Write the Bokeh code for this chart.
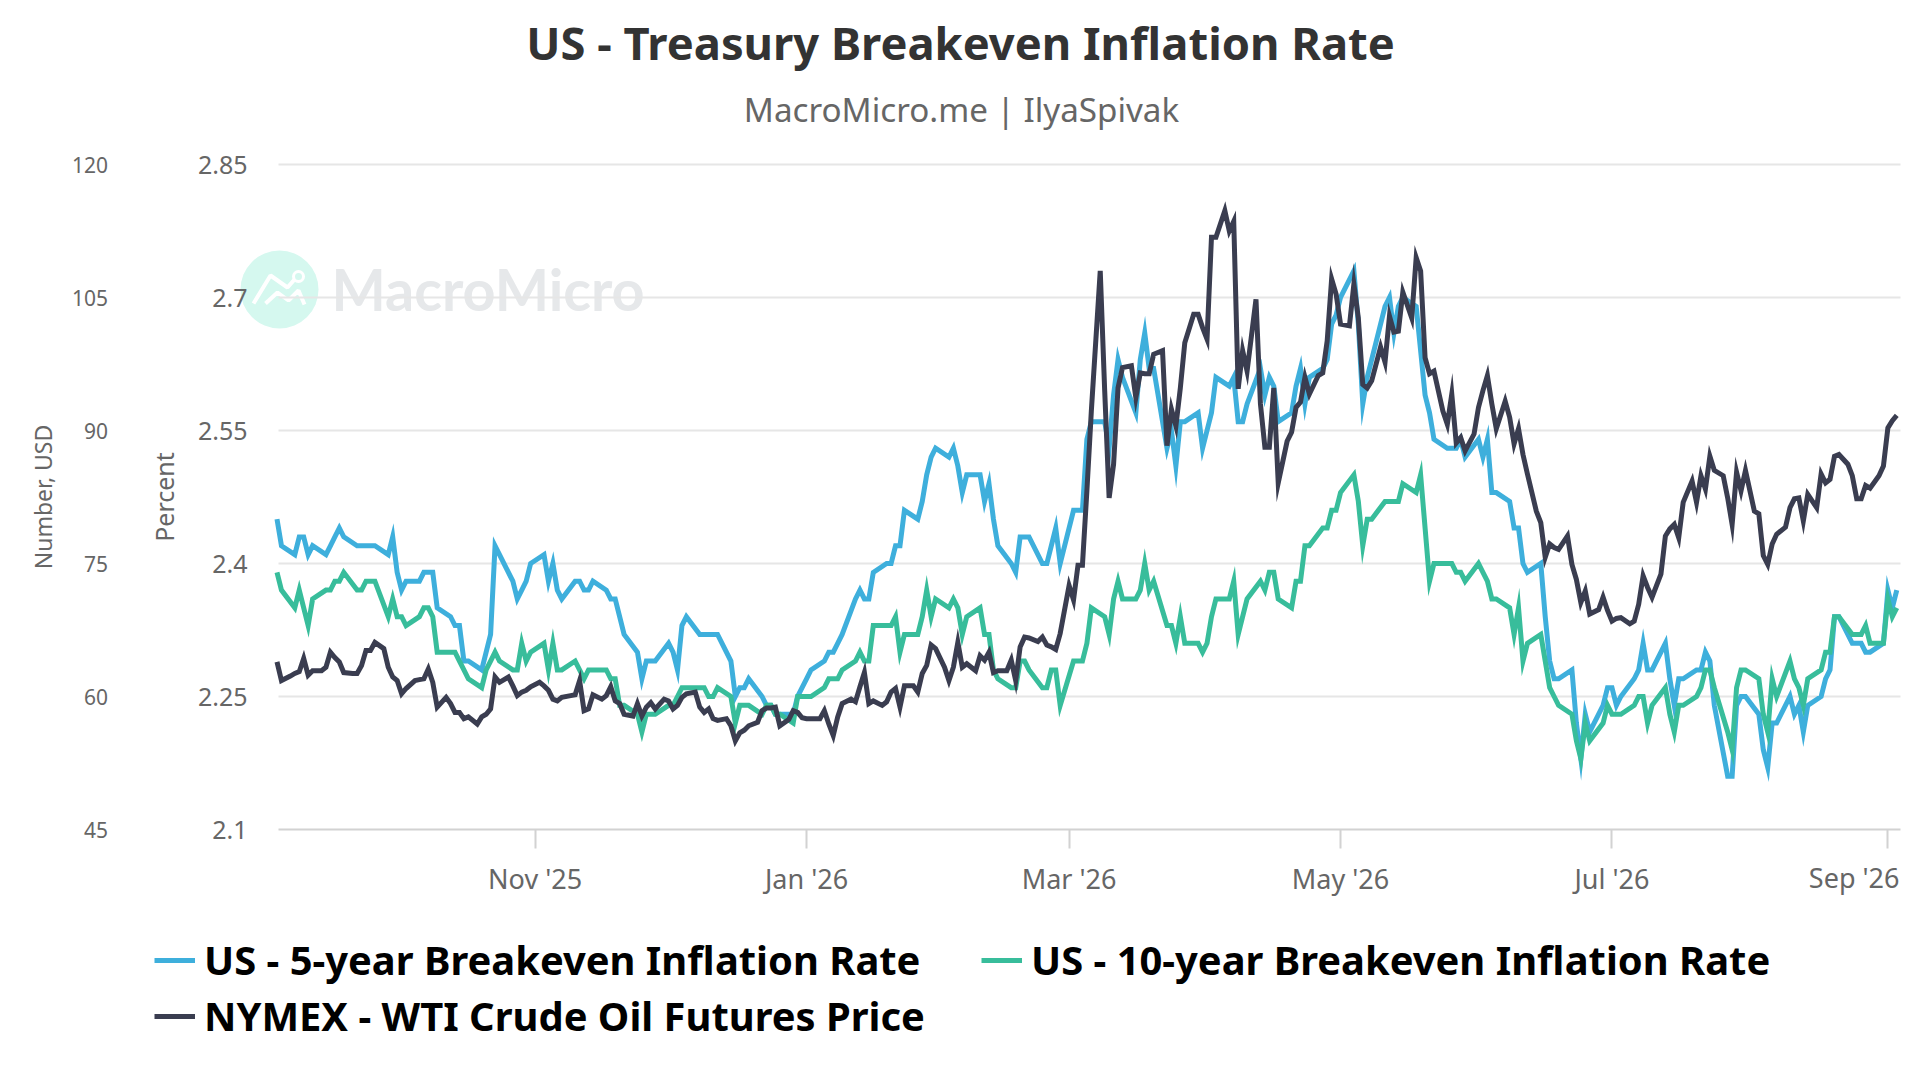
import pandas as pd
from bokeh.plotting import figure
from bokeh.models import (Range1d, LinearAxis, FixedTicker, Label, Legend, LegendItem,
                          BoxAnnotation, PolyAnnotation)
from bokeh.embed import file_html
from bokeh.resources import INLINE

TITLE = "US - Treasury Breakeven Inflation Rate"
SUBTITLE = "MacroMicro.me | IlyaSpivak"
FIRST_DAY = "2025-09-04"
LAST_DAY = "2026-09-03"
X_TICKS = ["2025-11-01", "2026-01-01", "2026-03-01", "2026-05-01", "2026-07-01", "2026-09-01"]
X_LABELS = ["Nov '25", "Jan '26", "Mar '26", "May '26", "Jul '26", "Sep '26"]
PCT_TICKS = [2.1, 2.25, 2.4, 2.55, 2.7, 2.85]
USD_TICKS = [45, 60, 75, 90, 105, 120]

five_year = [
    2.45, 2.42,
    2.41, 2.43, 2.43, 2.41, 2.42,
    2.41, 2.42, 2.43, 2.44, 2.43,
    2.42, 2.42, 2.42, 2.42, 2.42,
    2.41, 2.43, 2.39, 2.37, 2.38,
    2.38, 2.39, 2.39, 2.39, 2.35,
    2.34, 2.33, 2.33, 2.29, 2.29,
    2.28, 2.30, 2.32, 2.42, 2.41,
    2.38, 2.36, 2.37, 2.38, 2.40,
    2.41, 2.38, 2.40, 2.37, 2.36,
    2.38, 2.38, 2.37, 2.37, 2.38,
    2.37, 2.36, 2.36, 2.34, 2.32,
    2.30, 2.27, 2.29, 2.29, 2.29,
    2.31, 2.30, 2.28, 2.33, 2.34,
    2.32, 2.32, 2.32, 2.32, 2.32,
    2.29, 2.25, 2.26, 2.26, 2.27,
    2.25, 2.24, 2.24, 2.23, 2.23,
    2.23, 2.25, 2.26, 2.27, 2.28,
    2.29, 2.30, 2.30, 2.31, 2.32,
    2.36, 2.37, 2.36, 2.36, 2.39,
    2.40, 2.40, 2.42, 2.42, 2.46,
    2.45, 2.47, 2.50, 2.52, 2.53,
    2.52, 2.53, 2.51, 2.48, 2.50,
    2.50, 2.47, 2.49, 2.45, 2.42,
    2.40, 2.39, 2.43, 2.43, 2.43,
    2.40, 2.40, 2.42, 2.44, 2.40,
    2.46, 2.46, 2.46, 2.54, 2.56,
    2.56, 2.53, 2.59, 2.63, 2.61,
    2.57, 2.63, 2.66, 2.62, 2.62,
    2.53, 2.55, 2.51, 2.56, 2.56,
    2.57, 2.53, 2.55, 2.57, 2.61,
    2.60, 2.61, 2.56, 2.56, 2.58,
    2.62, 2.59, 2.61, 2.60, 2.56,
    2.57, 2.60, 2.62, 2.58, 2.61,
    2.62, 2.63, 2.67, 2.68, 2.70,
    2.73, 2.67, 2.58, 2.61, 2.63,
    2.69, 2.70, 2.66, 2.69, 2.70,
    2.69, 2.64, 2.59, 2.57, 2.54,
    2.53, 2.53, 2.53, 2.54, 2.52,
    2.54, 2.52, 2.54, 2.48, 2.48,
    2.47, 2.44, 2.44, 2.40, 2.39,
    2.40, 2.34, 2.29, 2.27, 2.27,
    2.28, 2.22, 2.18, 2.23, 2.21,
    2.24, 2.26, 2.26, 2.24, 2.25,
    2.27, 2.28, 2.31, 2.28, 2.28,
    2.31, 2.27, 2.24, 2.27, 2.27,
    2.28, 2.28, 2.30, 2.29, 2.24,
    2.16, 2.16, 2.24, 2.25, 2.25,
    2.23, 2.19, 2.17, 2.22, 2.22,
    2.25, 2.23, 2.24, 2.21, 2.24,
    2.25, 2.27, 2.28, 2.34, 2.34,
    2.31, 2.31, 2.31, 2.30, 2.30,
    2.31, 2.37, 2.35, 2.37,
]

ten_year = [
    2.39, 2.37,
    2.35, 2.37, 2.35, 2.33, 2.36,
    2.37, 2.37, 2.38, 2.38, 2.39,
    2.37, 2.37, 2.38, 2.38, 2.38,
    2.34, 2.36, 2.34, 2.34, 2.33,
    2.34, 2.35, 2.35, 2.34, 2.30,
    2.30, 2.30, 2.29, 2.28, 2.27,
    2.26, 2.28, 2.29, 2.30, 2.29,
    2.28, 2.28, 2.31, 2.29, 2.30,
    2.31, 2.28, 2.31, 2.28, 2.28,
    2.29, 2.28, 2.27, 2.28, 2.28,
    2.28, 2.27, 2.27, 2.24, 2.24,
    2.23, 2.21, 2.23, 2.23, 2.23,
    2.24, 2.24, 2.25, 2.26, 2.26,
    2.26, 2.26, 2.25, 2.25, 2.26,
    2.25, 2.22, 2.24, 2.24, 2.24,
    2.23, 2.24, 2.24, 2.23, 2.23,
    2.22, 2.25, 2.25, 2.25, 2.25,
    2.26, 2.27, 2.27, 2.27, 2.28,
    2.29, 2.30, 2.29, 2.29, 2.33,
    2.33, 2.33, 2.34, 2.30, 2.32,
    2.32, 2.34, 2.37, 2.34, 2.36,
    2.35, 2.36, 2.35, 2.32, 2.34,
    2.35, 2.32, 2.32, 2.28, 2.27,
    2.26, 2.26, 2.29, 2.29, 2.28,
    2.26, 2.26, 2.28, 2.28, 2.24,
    2.29, 2.29, 2.29, 2.31, 2.35,
    2.34, 2.32, 2.36, 2.38, 2.36,
    2.36, 2.37, 2.40, 2.37, 2.38,
    2.33, 2.33, 2.31, 2.34, 2.31,
    2.31, 2.30, 2.31, 2.34, 2.36,
    2.36, 2.38, 2.32, 2.34, 2.36,
    2.38, 2.37, 2.39, 2.39, 2.36,
    2.35, 2.38, 2.38, 2.42, 2.42,
    2.44, 2.44, 2.46, 2.46, 2.48,
    2.50, 2.47, 2.42, 2.45, 2.45,
    2.47, 2.47, 2.47, 2.47, 2.49,
    2.48, 2.50, 2.44, 2.38, 2.40,
    2.40, 2.40, 2.39, 2.39, 2.38,
    2.40, 2.39, 2.38, 2.36, 2.36,
    2.35, 2.32, 2.35, 2.29, 2.31,
    2.32, 2.29, 2.26, 2.25, 2.24,
    2.23, 2.20, 2.18, 2.22, 2.20,
    2.22, 2.24, 2.23, 2.23, 2.23,
    2.24, 2.25, 2.25, 2.22, 2.24,
    2.26, 2.23, 2.21, 2.24, 2.24,
    2.25, 2.26, 2.28, 2.28, 2.26,
    2.21, 2.19, 2.26, 2.28, 2.28,
    2.27, 2.23, 2.21, 2.27, 2.25,
    2.29, 2.27, 2.26, 2.24, 2.27,
    2.28, 2.30, 2.30, 2.34, 2.34,
    2.32, 2.32, 2.32, 2.33, 2.31,
    2.31, 2.36, 2.34, 2.35,
]

wti = [
    63.9, 61.8,
    62.3, 62.6, 62.8, 64.3, 62.4, 62.9,
    62.9, 63.3, 65.0, 64.4, 63.9, 62.7,
    62.6, 62.6, 63.5, 65.2, 65.2, 66.1,
    65.4, 63.3, 62.2, 61.8, 60.3, 60.9,
    61.8, 61.9, 62.0, 63.1, 61.6, 58.8,
    59.9, 59.2, 58.2, 58.2, 57.5, 57.7,
    56.9, 57.7, 58.0, 58.6, 62.2, 61.6,
    62.2, 61.2, 60.1, 60.5, 60.7, 61.1,
    61.6, 61.2, 60.7, 59.7, 59.5, 59.9,
    60.1, 60.2, 61.8, 58.4, 58.6, 60.2,
    59.7, 60.1, 61.1, 59.5, 59.2, 58.0,
    57.8, 59.2, 57.8, 58.8, 59.3, 58.6,
    59.7, 59.5, 58.6, 59.0, 59.9, 60.3,
    60.5, 58.8, 58.2, 58.6, 57.5, 57.3,
    57.5, 56.7, 55.0, 55.9, 56.2, 56.7,
    57.1, 58.4, 58.7, 58.7, 58.8, 56.7,
    57.4, 58.4, 58.2, 57.6, 57.5, 57.5,
    57.5, 58.4, 56.9, 55.6, 57.7, 59.2,
    59.7, 59.4, 61.1, 62.7, 59.2, 59.5,
    59.0, 59.4, 60.5, 60.9, 58.8, 61.2,
    61.2, 60.5, 62.6, 63.5, 65.8, 65.4,
    63.3, 61.8, 63.3, 66.1, 63.3, 63.7,
    62.9, 64.6, 64.1, 65.0, 62.7, 62.9,
    62.9, 64.1, 61.8, 65.6, 66.7, 66.6,
    66.2, 66.7, 65.8, 65.6, 65.3, 67.1,
    72.5, 70.9, 74.8, 74.8, 83.2, 92.2,
    108.0, 94.5, 82.4, 86.2, 94.8, 97.1,
    97.3, 93.7, 96.5, 96.4, 96.4, 98.6,
    99.0, 88.3, 92.4, 90.5, 94.8, 99.9,
    103.1, 103.1, 101.6, 100.3, 111.8, 111.8,
    114.8, 112.5, 113.6, 94.7, 99.0, 96.7,
    104.8, 93.0, 88.1, 88.1, 94.8, 84.1,
    88.8, 89.8, 92.6, 93.2, 96.0, 94.1,
    96.2, 96.5, 100.1, 107.1, 105.4, 102.0,
    101.8, 106.5, 102.7, 95.2, 94.8, 95.6,
    99.4, 97.7, 102.9, 101.1, 101.2, 105.6,
    102.7, 109.5, 108.0, 98.2, 96.4, 96.7,
    92.2, 90.7, 94.1, 88.6, 89.2, 87.7,
    89.6, 92.6, 94.5, 96.2, 93.0, 90.2,
    93.3, 91.5, 88.5, 90.2, 87.3, 85.1,
    80.9, 79.6, 75.7, 77.2, 76.8, 76.6,
    78.1, 74.9, 73.2, 70.6, 71.9, 69.3,
    69.8, 71.2, 69.7, 68.5, 68.8, 68.9,
    68.2, 68.5, 70.4, 73.6, 72.3, 71.2,
    73.8, 78.1, 78.9, 79.4, 77.9, 81.9,
    84.3, 81.9, 84.9, 83.4, 87.1, 85.5,
    84.9, 82.4, 79.4, 85.3, 83.2, 85.5,
    80.9, 80.6, 75.9, 74.9, 77.2, 78.3,
    79.1, 81.3, 82.3, 82.4, 79.8, 82.8,
    81.3, 85.1, 84.1, 84.5, 87.1, 87.3,
    86.2, 84.9, 82.3, 82.3, 83.8, 83.5,
    84.9, 86.0, 90.3, 91.1, 91.7,
]

be_dates = pd.bdate_range(FIRST_DAY, LAST_DAY)
all_days = pd.date_range(FIRST_DAY, LAST_DAY)
oil_dates = all_days[all_days.dayofweek != 5]
assert len(be_dates) == len(five_year) == len(ten_year), (len(be_dates), len(five_year), len(ten_year))
assert len(oil_dates) == len(wti), (len(oil_dates), len(wti))

FONT = "Noto Sans"
BLUE, TEAL, NAVY = "#3eafdc", "#38bd9b", "#3a3d50"
GRID = "#e6e6e6"
AXIS = "#d2d2d2"
GREY = "#666666"

# Canvas and plot-box geometry, in pixels.  The whole canvas is the frame, so
# that titles, legend and watermark can sit anywhere on it without being clipped.
W, H = 1912, 1072
BOX_L, BOX_R, BOX_T, BOX_B = 278, 1900, 164, 829
FIRST_DAY_PX = 276.5  # the first day lies just left of the plot box

t0 = pd.Timestamp(FIRST_DAY).value / 1e6
t1 = (pd.Timestamp(LAST_DAY) + pd.Timedelta(hours=12)).value / 1e6
ms_per_px = (t1 - t0) / (BOX_R - BOX_L)
pct_per_px = (PCT_TICKS[-1] - PCT_TICKS[0]) / (BOX_B - BOX_T)
usd_per_px = (USD_TICKS[-1] - USD_TICKS[0]) / (BOX_B - BOX_T)


def px_to_ms(px):
    return t0 + (px - FIRST_DAY_PX) * ms_per_px


p = figure(width=W, height=H, output_backend="svg", toolbar_location=None,
           x_axis_type="datetime",
           x_range=Range1d(px_to_ms(0), px_to_ms(W)),
           y_range=Range1d(PCT_TICKS[0] - (H - BOX_B) * pct_per_px, PCT_TICKS[-1] + BOX_T * pct_per_px),
           y_axis_location=None, min_border=0)
p.extra_y_ranges = {"usd": Range1d(USD_TICKS[0] - (H - BOX_B) * usd_per_px, USD_TICKS[-1] + BOX_T * usd_per_px)}
p.outline_line_color = None
p.background_fill_color = "white"
p.grid.visible = False

ax = p.xaxis[0]
tick_ms = [pd.Timestamp(t).value / 1e6 for t in X_TICKS]
ax.fixed_location = PCT_TICKS[0]
ax.bounds = (px_to_ms(BOX_L), px_to_ms(BOX_R))
ax.ticker = FixedTicker(ticks=tick_ms)
ax.major_label_overrides = {int(m): (l if l != X_LABELS[-1] else " ") for m, l in zip(tick_ms, X_LABELS)}
ax.axis_line_color = AXIS
ax.axis_line_width = 2
ax.major_tick_line_color = AXIS
ax.major_tick_line_width = 2
ax.major_tick_in = 0
ax.major_tick_out = 19
ax.minor_tick_line_color = None
ax.major_label_standoff = 11
ax.major_label_text_font = FONT
ax.major_label_text_font_size = "27px"
ax.major_label_text_color = GREY

pct_axis = LinearAxis(ticker=FixedTicker(ticks=PCT_TICKS), axis_label="Percent", fixed_location=px_to_ms(253),
                      bounds=(PCT_TICKS[0], PCT_TICKS[-1]),
                      major_label_overrides={2.1: "2.1", 2.25: "2.25", 2.4: "2.4", 2.55: "2.55", 2.7: "2.7", 2.85: "2.85"})
usd_axis = LinearAxis(y_range_name="usd", ticker=FixedTicker(ticks=USD_TICKS), axis_label="Number, USD",
                      fixed_location=px_to_ms(113.5), bounds=(USD_TICKS[0], USD_TICKS[-1]))
for a, size, title_size, title_standoff in ((pct_axis, "25px", "25px", 14), (usd_axis, "21px", "23px", 10)):
    a.axis_line_color = None
    a.major_tick_line_color = None
    a.minor_tick_line_color = None
    a.major_label_standoff = 0
    a.major_label_text_font = FONT
    a.major_label_text_font_size = size
    a.major_label_text_color = GREY
    a.axis_label_text_font = FONT
    a.axis_label_text_font_size = title_size
    a.axis_label_text_font_style = "normal"
    a.axis_label_text_color = GREY
    a.axis_label_standoff = title_standoff
p.add_layout(pct_axis, "left")
p.add_layout(usd_axis, "left")

# watermark, below the grid lines
su = dict(left_units="screen", right_units="screen", top_units="screen", bottom_units="screen")
p.add_layout(BoxAnnotation(left=240, right=318, top=H - 250, bottom=H - 328, fill_color="#d5f8ef", fill_alpha=1,
                           line_color=None, border_radius=39, level="image", **su))
p.add_layout(BoxAnnotation(left=293, right=303, top=H - 271, bottom=H - 281, fill_alpha=0, line_color="white",
                           line_alpha=1, line_width=3, border_radius=5, level="image", **su))
for xs, ys in (([253, 270, 287, 294], [303, 275, 287, 279]), ([265, 277, 288, 298, 304], [303, 292, 300, 290, 304])):
    p.add_layout(PolyAnnotation(xs=xs + xs[-2:0:-1], ys=[H - y for y in ys + ys[-2:0:-1]],
                                xs_units="screen", ys_units="screen",
                                fill_alpha=0, line_color="white", line_alpha=1, line_width=4, level="image"))
p.add_layout(Label(x=331, y=H - 288, x_units="screen", y_units="screen", text="MacroMicro",
                   text_font="Lato", text_font_style="bold", text_font_size="57.5px", text_color="#e6e8ea",
                   text_baseline="middle", level="image"))

# grid lines run across the plot box only
grid_x0 = [pd.Timestamp(px_to_ms(BOX_L), unit="ms")] * 5
grid_x1 = [pd.Timestamp(px_to_ms(BOX_R), unit="ms")] * 5
p.segment(grid_x0, PCT_TICKS[1:], grid_x1, PCT_TICKS[1:], line_color=GRID, line_width=2, level="underlay")

l5 = p.line(be_dates, five_year, line_color=BLUE, line_width=5, line_join="miter")
l10 = p.line(be_dates, ten_year, line_color=TEAL, line_width=5, line_join="miter")
loil = p.line(oil_dates, wti, y_range_name="usd", line_color=NAVY, line_width=5, line_join="miter")

legend = Legend(items=[LegendItem(label="US - 5-year Breakeven Inflation Rate", renderers=[l5]),
                       LegendItem(label="NYMEX - WTI Crude Oil Futures Price", renderers=[loil]),
                       LegendItem(label="US - 10-year Breakeven Inflation Rate", renderers=[l10])],
                ncols=2, location=(154, H - 1043), background_fill_alpha=0, border_line_color=None,
                label_text_font=FONT, label_text_font_style="bold", label_text_font_size="39.9px",
                label_text_color="#000000", glyph_width=41, glyph_height=30, label_standoff=9,
                spacing=1, margin=0, padding=0, label_width=776)
p.add_layout(legend)

p.add_layout(Label(x=960, y=H - 41.5, x_units="screen", y_units="screen", text=TITLE, text_align="center",
                   text_baseline="middle", text_font=FONT, text_font_style="bold", text_font_size="45.3px",
                   text_color="#333333"))
p.add_layout(Label(x=961, y=H - 109, x_units="screen", y_units="screen", text=SUBTITLE, text_align="center",
                   text_baseline="middle", text_font=FONT, text_font_size="33.2px", text_color=GREY))
p.add_layout(Label(x=1899, y=H - 877, x_units="screen", y_units="screen", text=X_LABELS[-1], text_align="right",
                   text_baseline="middle", text_font=FONT, text_font_size="27px", text_color=GREY))

open("out.html", "w").write(file_html(p, INLINE))
